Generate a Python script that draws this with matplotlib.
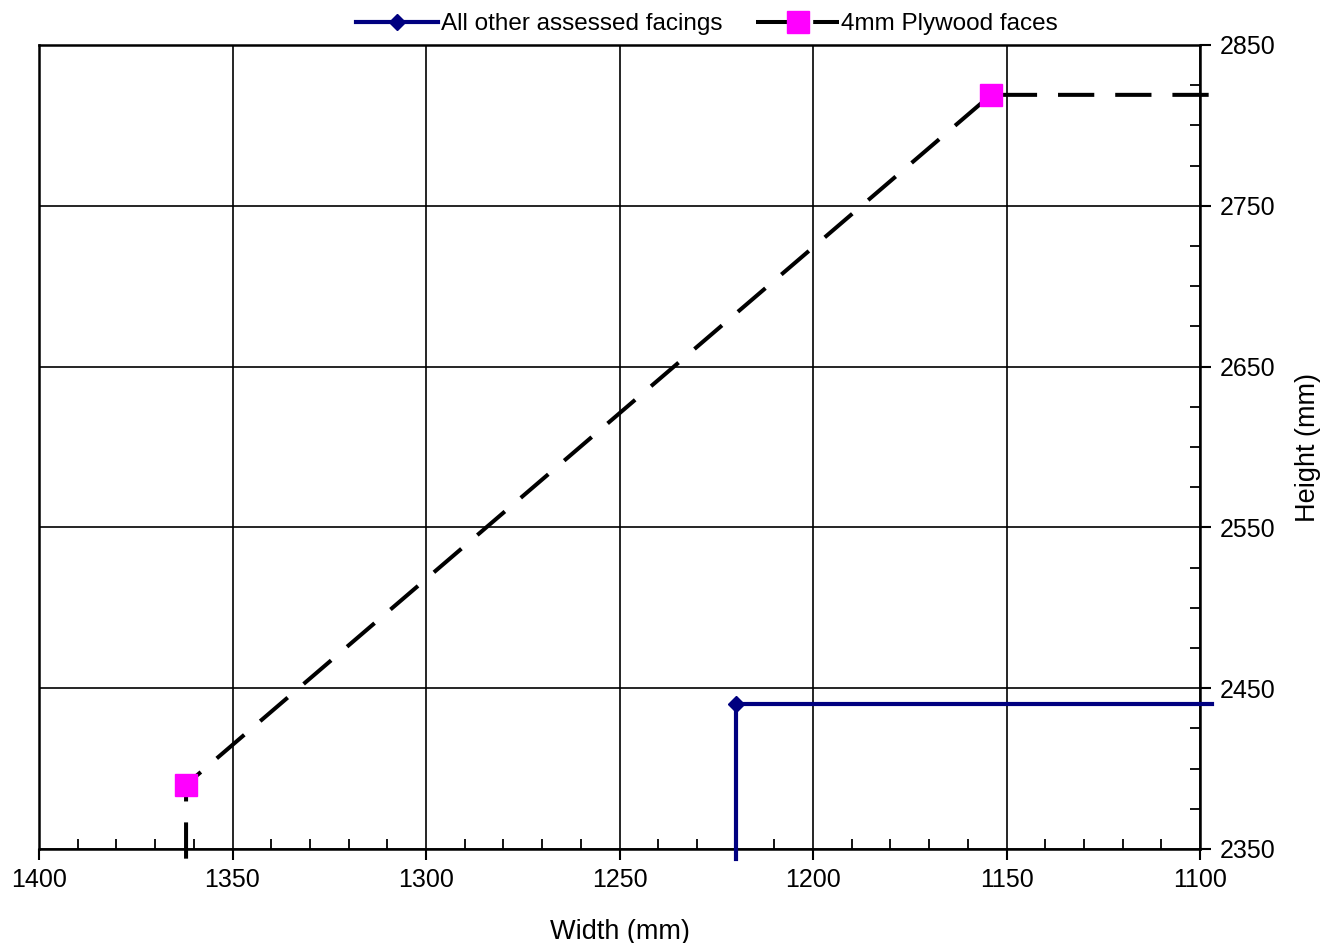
import matplotlib
matplotlib.use("Agg")
import matplotlib.pyplot as plt
import numpy as np
from matplotlib.ticker import MultipleLocator

plt.rcParams['font.family'] = ['Liberation Sans', 'DejaVu Sans']

# Data
other_x = [1220, 1220, 1097]
other_y = [2344, 2440, 2440]
ply_x = [1362, 1362, 1154, 1097]
ply_y = [2344, 2390, 2819, 2819]
labels = ["All other assessed facings", "4mm Plywood faces"]

fig = plt.figure(figsize=(13.28, 9.43), dpi=100)
ax = fig.add_axes([39/1328, 1-849/943, (1200-39)/1328, (849-45)/943])

ax.plot(other_x, other_y, color='#000080', lw=3.0, marker='D', markersize=8,
        markevery=[1], clip_on=False, zorder=4, label=labels[0])
ax.plot(ply_x, ply_y, color='black', lw=2.9, linestyle=(0, (9, 5.2)),
        marker='s', markersize=15.5, markerfacecolor='#FF00FF',
        markeredgecolor='#FF00FF', markevery=[1, 2], clip_on=False,
        zorder=5, label=labels[1])

ax.set_xlim(1400, 1100)
ax.set_ylim(2350, 2850)
ax.xaxis.set_major_locator(MultipleLocator(50))
ax.xaxis.set_minor_locator(MultipleLocator(10))
ax.yaxis.set_major_locator(MultipleLocator(100, offset=50))
ax.yaxis.set_minor_locator(MultipleLocator(25))
ax.yaxis.tick_right()
ax.yaxis.set_label_position('right')

ax.grid(True, which='major', color='black', lw=1.2)
ax.tick_params(which='major', direction='out', length=8, width=1.5,
               labelsize=18, pad=6)
ax.tick_params(which='minor', direction='in', length=7, width=1.3)
for s in ax.spines.values():
    s.set_linewidth(1.8)

ax.set_xlabel("Width (mm)", fontsize=19.5, labelpad=19)
ax.set_ylabel("Height (mm)", fontsize=19.5, labelpad=14)

leg = fig.legend(loc='center', bbox_to_anchor=(707/1328, 1-24/943), ncol=2,
                 frameon=False, fontsize=17.5, handlelength=3.4,
                 handletextpad=0.1, columnspacing=1.4)

fig.savefig("out.png", dpi=100)
